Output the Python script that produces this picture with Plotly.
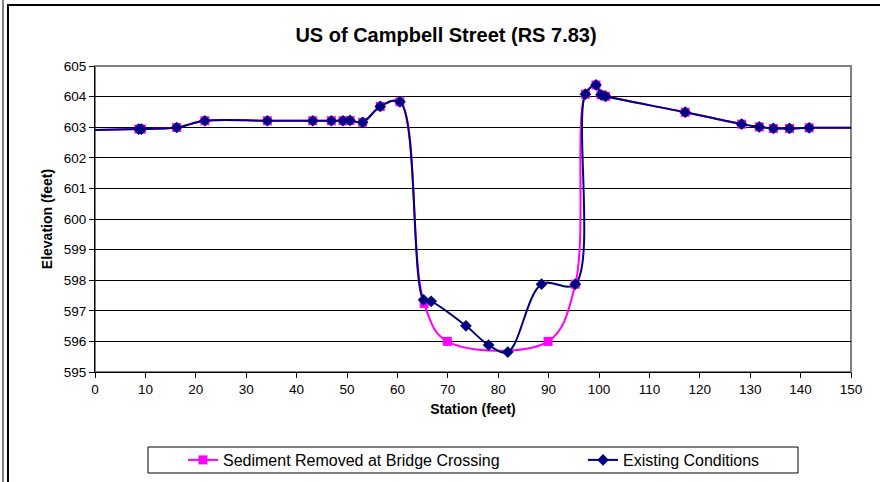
import plotly.graph_objects as go

# Cross section at US of Campbell Street (RS 7.83)
station_existing = [-3, 8.7, 9.2, 16.2, 21.8, 34.2, 43.2, 46.9, 49.2, 50.6, 53.1, 56.6, 60.5,
                    65.2, 66.7, 73.6, 78.1, 81.9, 88.6, 95.3,
                    97.3, 99.4, 100.4, 101.3, 117.1, 128.3, 131.8, 134.6, 137.8, 141.7, 152]
elev_existing = [602.90, 602.94, 602.94, 602.99, 603.21, 603.21, 603.21, 603.21, 603.21, 603.22, 603.16, 603.68, 603.83,
                 597.36, 597.31, 596.51, 595.88, 595.65, 597.87, 597.87,
                 604.08, 604.38, 604.06, 604.01, 603.49, 603.10, 603.01, 602.96, 602.96, 602.98, 602.98]

station_removed = [-3, 8.7, 9.2, 16.2, 21.8, 34.2, 43.2, 46.9, 49.2, 50.6, 53.1, 56.6, 60.5,
                   65.3, 69.9, 89.9, 95.3,
                   97.3, 99.4, 100.4, 101.3, 117.1, 128.3, 131.8, 134.6, 137.8, 141.7, 152]
elev_removed = [602.90, 602.94, 602.94, 602.99, 603.21, 603.21, 603.21, 603.21, 603.21, 603.22, 603.16, 603.68, 603.83,
                597.24, 596.0, 596.0, 597.87,
                604.08, 604.38, 604.06, 604.01, 603.49, 603.10, 603.01, 602.96, 602.96, 602.98, 602.98]

x_ticks = list(range(0, 151, 10))
y_ticks = list(range(595, 606, 1))

FONT = "Arial, Liberation Sans, sans-serif"

fig = go.Figure()

fig.add_trace(go.Scatter(x=station_removed, y=elev_removed,
                         mode='lines+markers',
                         name='Sediment Removed at Bridge Crossing',
                         legend='legend',
                         line=dict(color='#FF00FF', width=2, shape='spline', smoothing=1),
                         marker=dict(symbol='square', size=9, color='#FF00FF')))

fig.add_trace(go.Scatter(x=station_existing, y=elev_existing,
                         mode='lines+markers',
                         name='Existing Conditions',
                         legend='legend2',
                         line=dict(color='#000080', width=2, shape='spline', smoothing=1),
                         marker=dict(symbol='diamond', size=9, color='#000080')))

# plot area in px: x 95..851, y 66..372
def px_x(p):
    return (p - 95) / 756.0

def px_y(p):
    return (372 - p) / 306.0

shapes = [
    # outer chart frame
    dict(type='rect', xref='paper', yref='paper',
         x0=px_x(8), x1=px_x(890), y0=px_y(5), y1=px_y(495),
         line=dict(color='black', width=2), layer='below'),
    # edge of neighbouring frame on the left
    dict(type='line', xref='paper', yref='paper',
         x0=px_x(3), x1=px_x(3), y0=px_y(-5), y1=px_y(495),
         line=dict(color='black', width=1)),
    # plot area border
    dict(type='rect', xref='paper', yref='paper', x0=0, x1=1, y0=0, y1=1,
         line=dict(color='#808080', width=2), layer='below'),
    # legend box
    dict(type='rect', xref='paper', yref='paper',
         x0=px_x(148), x1=px_x(798), y0=px_y(447), y1=px_y(473),
         line=dict(color='black', width=1)),
]

leg = dict(orientation='h', xanchor='left', y=px_y(460), yanchor='middle',
           bgcolor='rgba(0,0,0,0)', borderwidth=0, font=dict(size=16, family=FONT),
           itemwidth=30)

fig.update_layout(
    width=880, height=482,
    margin=dict(l=95, r=29, t=66, b=110, autoexpand=False),
    paper_bgcolor='white', plot_bgcolor='white',
    font=dict(family=FONT, size=13.5, color='black'),
    title=dict(text='<b>US of Campbell Street (RS 7.83)</b>', x=446 / 880, xanchor='center',
               y=1 - 35 / 482, yanchor='middle', font=dict(size=20, family=FONT)),
    showlegend=True,
    legend=dict(leg, x=px_x(183)),
    legend2=dict(leg, x=px_x(583)),
    shapes=shapes,
)

fig.update_xaxes(range=[0, 150], tickvals=x_ticks, ticks='outside', ticklen=5, tickcolor='black',
                 showline=True, linecolor='black', linewidth=1, showgrid=False, zeroline=False,
                 automargin=False,
                 title=dict(text='<b>Station (feet)</b>', font=dict(size=14), standoff=7),
                 tickfont=dict(size=13.5))
fig.update_yaxes(range=[595, 605], tickvals=y_ticks, ticks='outside', ticklen=5, tickcolor='black',
                 showline=True, linecolor='black', linewidth=1, showgrid=True, gridcolor='black',
                 gridwidth=1, zeroline=False, automargin=False,
                 title=dict(text='<b>Elevation (feet)</b>', font=dict(size=14), standoff=7),
                 tickfont=dict(size=13.5))

# page body margin would shift the chart by 8px
fig.write_html("out.html", config={'displayModeBar': False},
               post_script="document.body.style.margin='0px';")
